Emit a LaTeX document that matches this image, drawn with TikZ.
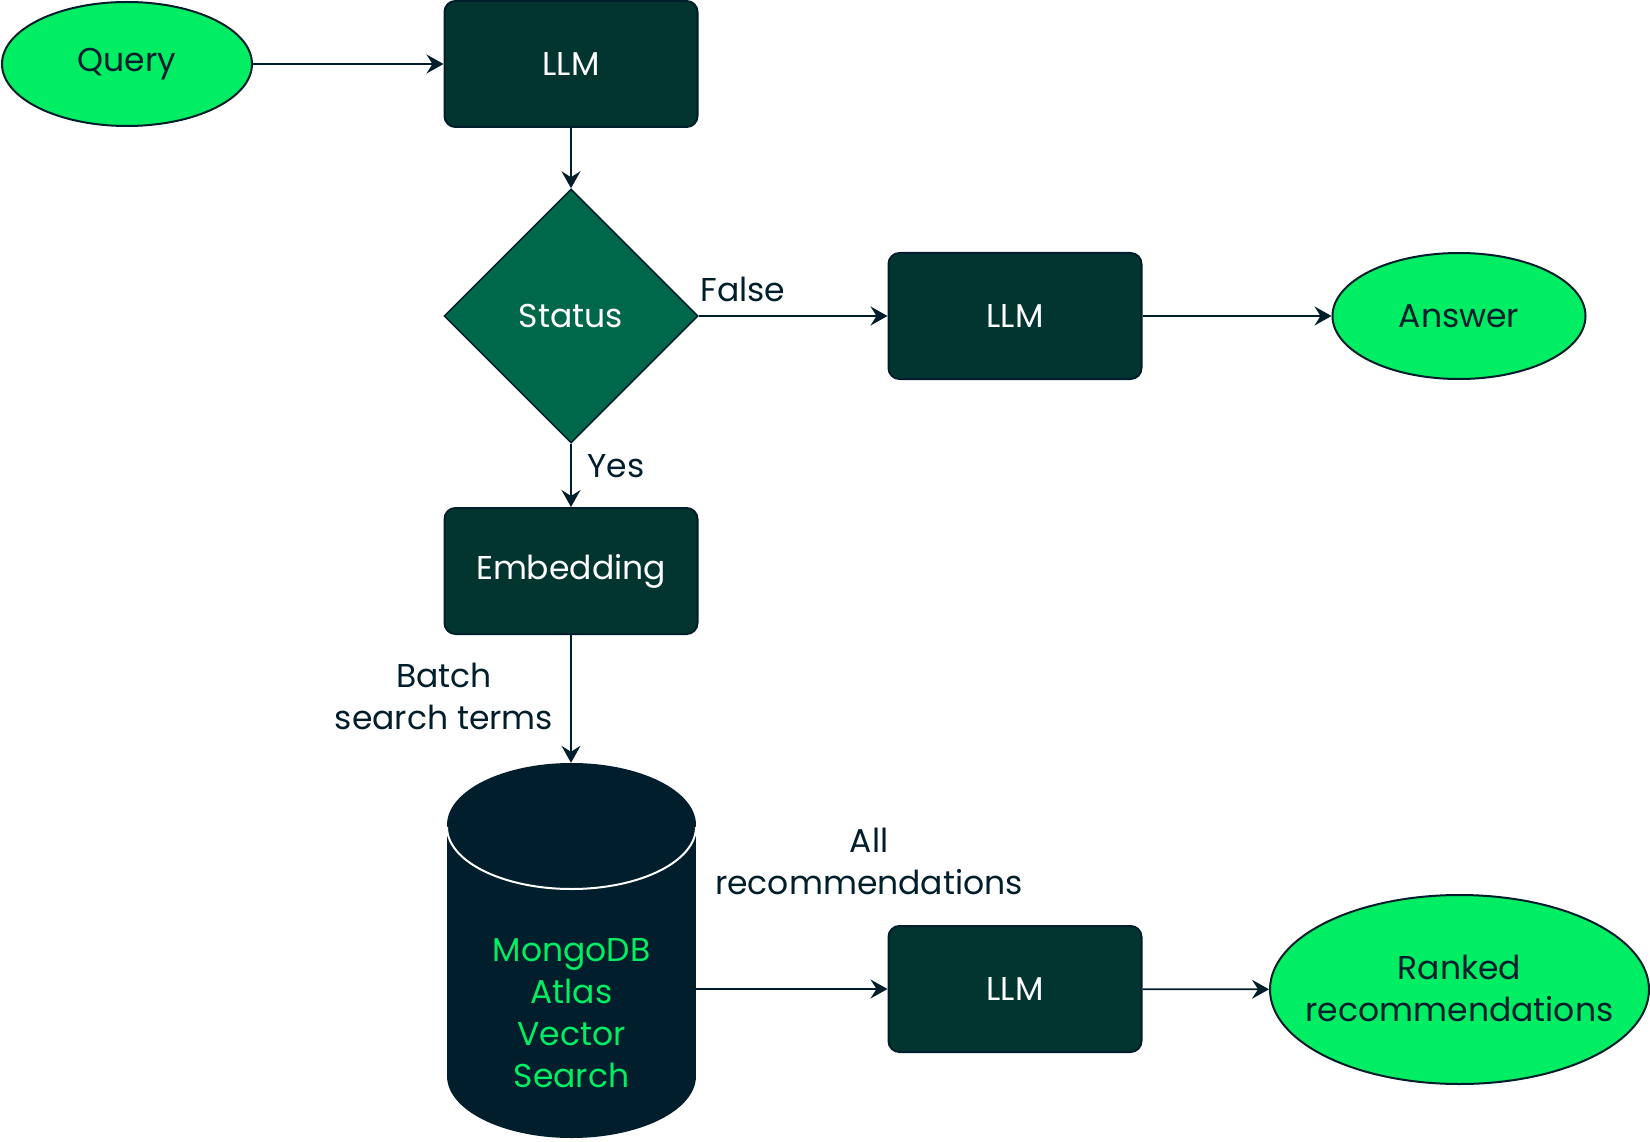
\documentclass[tikz,border=0pt]{standalone}
\usepackage{fontspec}
\setmainfont{Poppins}
\usetikzlibrary{arrows.meta,shapes.geometric}
\definecolor{ink}{HTML}{001E2B}
\definecolor{boxgreen}{HTML}{023430}
\definecolor{diagreen}{HTML}{00684A}
\definecolor{bright}{HTML}{00ED64}
\tikzset{
  box/.style={draw=ink, line width=2pt, fill=boxgreen, rounded corners=11pt,
    minimum width=253pt, minimum height=126pt, text=white, inner sep=0pt},
  oval/.style={ellipse, draw=ink, line width=2pt, fill=bright, text=ink,
    inner sep=0pt, align=center},
  dia/.style={diamond, draw=ink, line width=1.5pt, fill=diagreen, text=white,
    minimum width=254pt, minimum height=254pt, inner sep=0pt},
  conn/.style={-{Stealth[length=17pt,width=19pt,inset=6pt]}, line width=1.8pt, draw=ink},
  lab/.style={text=ink, align=center, inner sep=0pt},
}
\begin{document}
\begin{tikzpicture}[x=1pt,y=-1pt,font=\fontsize{33}{42}\selectfont]
\useasboundingbox[fill=white] (0,0) rectangle (1650,1142);

\node[oval, minimum width=250pt, minimum height=124pt] (query) at (127,64) {};
\node[text=ink, inner sep=0pt] (querytext) at (query.center) {Query};
\node[box] (llm1) at (571,64) {LLM};
\node[dia] (status) at (571,316) {Status};
\node[box] (llm2) at (1015,316) {LLM};
\node[oval, minimum width=253pt, minimum height=126pt] (answer) at (1459,316) {};
\node[text=ink, inner sep=0pt] (answertext) at (answer.center) {Answer};
\node[box] (emb) at (571,571) {Embedding};
\node[box] (llm3) at (1015,989) {LLM};
\node[oval, minimum width=379pt, minimum height=189pt] (ranked) at (1459.5,989.5) {};
\node[text=ink, align=center, inner sep=0pt] (rankedtext) at (1459.5,988) {Ranked\\recommendations};

% cylinder
\node[minimum width=249pt, minimum height=375pt, inner sep=0pt] (db) at (571.5,950.5) {};
\fill[ink] (447,825) rectangle (696,1076);
\fill[ink] (571.5,1076) ellipse [x radius=124.5, y radius=62];
\fill[ink] (571.5,825) ellipse [x radius=124.5, y radius=62];
\draw[white, line width=2pt] (447,827) arc[start angle=180, end angle=0, x radius=124.5, y radius=62];
\node[text=bright, align=center, inner sep=0pt] (dbtext) at (571.5,1013) {MongoDB\\Atlas\\Vector\\Search};

% connectors
\draw[conn] (query) -- (llm1);
\draw[conn] (llm1) -- (status);
\draw[conn] (status) -- (llm2);
\draw[conn] (llm2) -- (answer);
\draw[conn] (status) -- (emb);
\draw[conn] (emb.south) -- (emb.south |- db.north);
\draw[conn] (db.east |- llm3) -- (llm3);
\draw[conn] (llm3) -- (ranked);

% labels
\node[lab] (lfalse) at (743,289) {False};
\node[lab] (lyes) at (616,466) {Yes};
\node[lab] (lbatch) at (444,696) {Batch\\search terms};
\node[lab] (lall) at (869,861) {All\\recommendations};
\end{tikzpicture}
\end{document}
